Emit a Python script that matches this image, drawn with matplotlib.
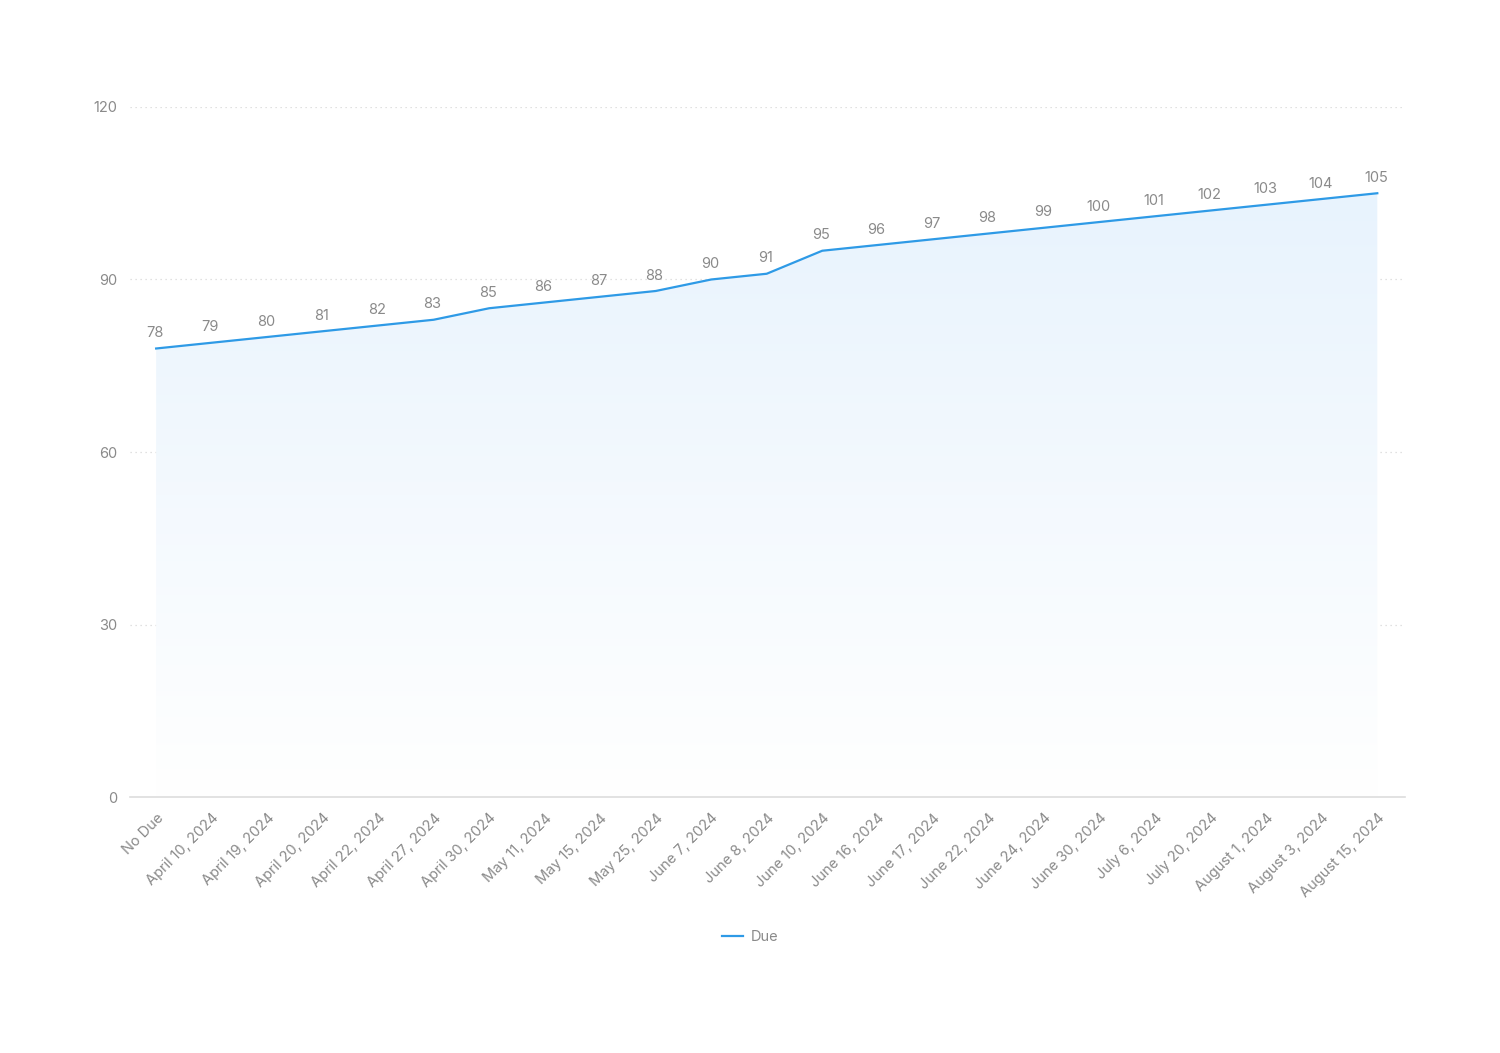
import numpy as np
import matplotlib.pyplot as plt
from matplotlib.lines import Line2D
from matplotlib.colors import LinearSegmentedColormap

plt.rcParams['font.family'] = ['Inter', 'DejaVu Sans']

categories = ["No Due", "April 10, 2024", "April 19, 2024", "April 20, 2024",
              "April 22, 2024", "April 27, 2024", "April 30, 2024", "May 11, 2024",
              "May 15, 2024", "May 25, 2024", "June 7, 2024", "June 8, 2024",
              "June 10, 2024", "June 16, 2024", "June 17, 2024", "June 22, 2024",
              "June 24, 2024", "June 30, 2024", "July 6, 2024", "July 20, 2024",
              "August 1, 2024", "August 3, 2024", "August 15, 2024"]
due = [78, 79, 80, 81, 82, 83, 85, 86, 87, 88, 90, 91, 95, 96, 97, 98, 99,
       100, 101, 102, 103, 104, 105]
yticks = [0, 30, 60, 90, 120]

line_color = "#2e9ae6"
text_color = "#8a8a8a"

fig = plt.figure(figsize=(15, 10.53), dpi=100)
ax = fig.add_axes([0.0867, 0.2431, 0.85, 0.6553])

x = np.arange(len(categories))
ax.set_xlim(-0.47, len(categories) - 1 + 0.5)
ax.set_ylim(0, 120)

# gradient fill under the line
poly = ax.fill_between(x, due, 0, color="none")
grad = np.linspace(0, 1, 256).reshape(-1, 1)
cmap = LinearSegmentedColormap.from_list("g", ["#ffffff", "#e8f3fd"])
img = ax.imshow(grad, cmap=cmap, aspect="auto", origin="lower",
                extent=[0, len(categories) - 1, 0, max(due)], zorder=1)
img.set_clip_path(poly.get_paths()[0], transform=ax.transData)

ax.plot(x, due, color=line_color, lw=1.6, zorder=3)

for xi, v in zip(x, due):
    ax.annotate(str(v), (xi, v), xytext=(-1, 6), textcoords="offset points",
                ha="center", va="bottom", fontsize=10.5, color=text_color)

ax.set_yticks(yticks)
ax.set_yticklabels([str(t) for t in yticks])
for t in yticks[1:]:
    ax.axhline(t, color="#d8d8d8", lw=0.9, ls=(0, (1, 3)), zorder=0)

ax.set_xticks(x)
ax.set_xticklabels(categories, rotation=45, ha="right", rotation_mode="anchor")
ax.tick_params(axis="both", length=0, colors=text_color, labelsize=10.5)
ax.tick_params(axis="x", pad=10)
ax.tick_params(axis="y", pad=9)

for s in ["top", "right", "left"]:
    ax.spines[s].set_visible(False)
ax.spines["bottom"].set_color("#dddddd")
ax.spines["bottom"].set_linewidth(1.2)

handle = Line2D([], [], color=line_color, lw=1.6)
fig.legend([handle], ["Due"], loc="center", bbox_to_anchor=(0.5, 1 - 937 / 1053),
           frameon=False, fontsize=10.5, labelcolor=text_color,
           handlelength=1.5, handletextpad=0.5)

fig.savefig("out.png", dpi=100)
